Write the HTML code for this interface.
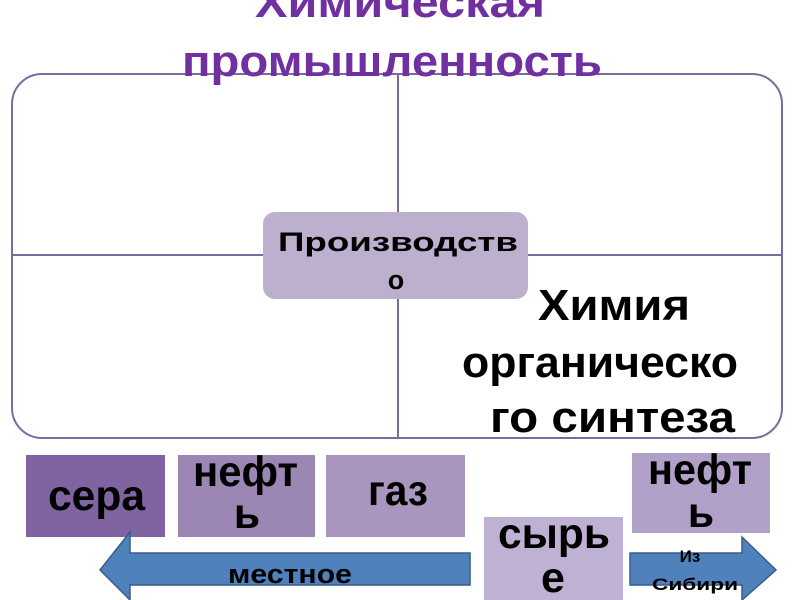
<!DOCTYPE html>
<html><head><meta charset="utf-8"><style>
body{margin:0;width:800px;height:600px;overflow:hidden;background:#fff;font-family:"Liberation Sans",sans-serif}
</style></head><body>
<svg width="800" height="600" xmlns="http://www.w3.org/2000/svg" style="position:absolute;left:0;top:0">
<rect x="12" y="74" width="770" height="364" rx="30" fill="none" stroke="#7b6a9c" stroke-width="2"/>
<line x1="398" y1="74" x2="398" y2="438" stroke="#7b6a9c" stroke-width="2"/>
<line x1="12" y1="255" x2="782" y2="255" stroke="#7b6a9c" stroke-width="2"/>
<rect x="263" y="212" width="265" height="87" rx="12" fill="#bdb0cf"/>
<g font-weight="bold">
<text x="255" y="17" font-size="44" fill="#7030a0" textLength="290" lengthAdjust="spacingAndGlyphs">Химическая</text>
<text x="182" y="76" font-size="44" fill="#7030a0" textLength="420" lengthAdjust="spacingAndGlyphs">промышленность</text>
<text x="278" y="251" font-size="27" fill="#000" textLength="240" lengthAdjust="spacingAndGlyphs">Производств</text>
<text x="396" y="289" font-size="27" fill="#000" text-anchor="middle">о</text>
<text x="538" y="320" font-size="44" fill="#000" textLength="152" lengthAdjust="spacingAndGlyphs">Химия</text>
<text x="462" y="377" font-size="44" fill="#000" textLength="276" lengthAdjust="spacingAndGlyphs">органическо</text>
<text x="490" y="432" font-size="44" fill="#000" textLength="245" lengthAdjust="spacingAndGlyphs">го синтеза</text>
</g>
<rect x="26" y="455" width="139" height="82" fill="#8064a2"/>
<rect x="178" y="455" width="137" height="82" fill="#9b86b4"/>
<rect x="326" y="455" width="139" height="82" fill="#a995bd"/>
<rect x="632" y="453" width="138" height="80" fill="#b1a0c7"/>
<path d="M470 553 L130 553 L130 532 L100 570 L130 600 L130 585 L470 585 Z" fill="#4f81bd" stroke="#385d8a" stroke-width="1.5"/>
<path d="M630 553 L742 553 L742 537 L776 570 L742 600 L742 585 L630 585 Z" fill="#4f81bd" stroke="#385d8a" stroke-width="1.5"/>
<rect x="484" y="517" width="139" height="85" fill="#bfb1d3"/>
<g font-weight="bold" fill="#000">
<text x="48" y="510" font-size="43" textLength="97" lengthAdjust="spacingAndGlyphs">сера</text>
<text x="193" y="486" font-size="43" textLength="105" lengthAdjust="spacingAndGlyphs">нефт</text>
<text x="247" y="528" font-size="43" text-anchor="middle">ь</text>
<text x="368" y="505" font-size="43" textLength="60" lengthAdjust="spacingAndGlyphs">газ</text>
<text x="648" y="484" font-size="43" textLength="104" lengthAdjust="spacingAndGlyphs">нефт</text>
<text x="701" y="527" font-size="43" text-anchor="middle">ь</text>
<text x="498" y="548" font-size="43" textLength="112" lengthAdjust="spacingAndGlyphs">сырь</text>
<text x="553" y="592" font-size="43" text-anchor="middle">е</text>
<text x="228" y="583" font-size="27" textLength="124" lengthAdjust="spacingAndGlyphs">местное</text>
<text x="690" y="562" font-size="17" text-anchor="middle">Из</text>
<text x="652" y="590" font-size="17" textLength="86" lengthAdjust="spacingAndGlyphs">Сибири</text>
</g>
</svg>
</body></html>
